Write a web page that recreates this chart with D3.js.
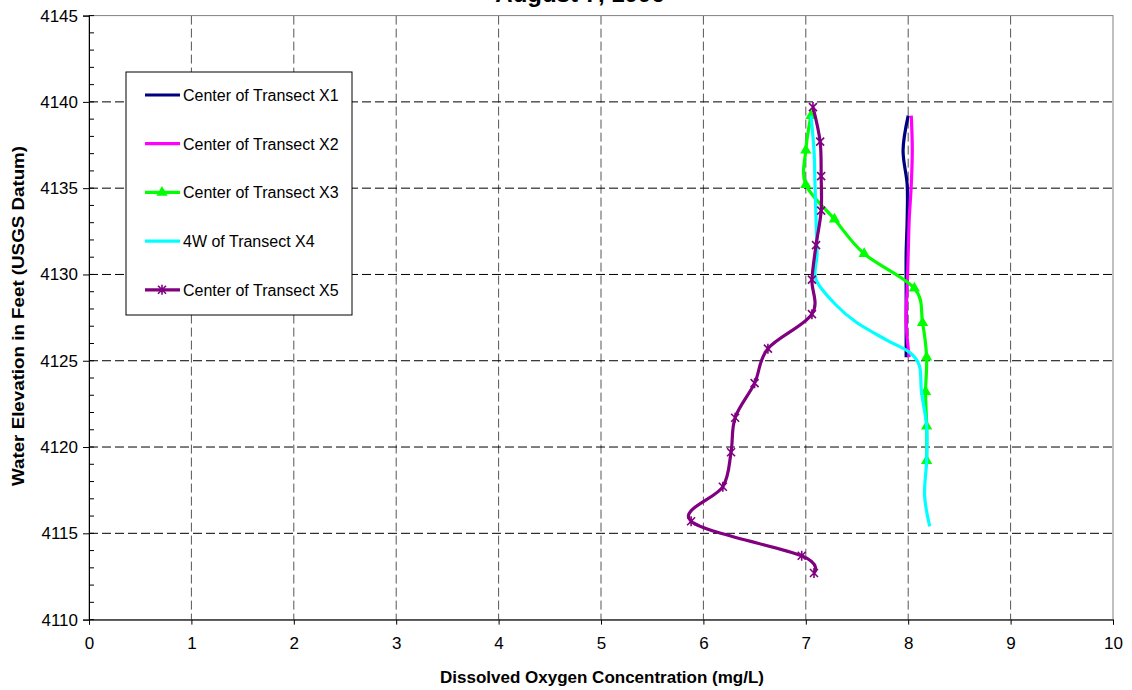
<!DOCTYPE html>
<html><head><meta charset="utf-8">
<script src="https://cdn.jsdelivr.net/npm/d3@7"></script>
<style>body{margin:0;background:#fff}svg{display:block}text{font-family:"Liberation Sans",Arial,sans-serif}</style>
</head><body>
<svg id="c" width="1132" height="690"></svg>
<script>
const xTicks=[0,1,2,3,4,5,6,7,8,9,10];
const yTicks=[4110,4115,4120,4125,4130,4135,4140,4145];
const seriesNames=["Center of Transect X1","Center of Transect X2","Center of Transect X3","4W of Transect X4","Center of Transect X5"];
const x1Elev=[4139.2,4137.2,4135.2,4133.2,4131.2,4129.2,4127.2,4125.2];
const x1DO=[8.00,7.95,7.99,7.99,7.98,7.98,7.98,7.98];
const x2Elev=[4139.2,4137.2,4135.2,4133.2,4131.2,4129.2,4127.2,4125.2];
const x2DO=[8.03,8.04,8.03,8.01,8.00,7.99,7.98,8.01];
const x3Elev=[4139.2,4137.2,4135.2,4133.2,4131.2,4129.2,4127.2,4125.2,4123.2,4121.2,4119.2];
const x3DO=[7.05,7.00,7.00,7.28,7.57,8.06,8.14,8.18,8.17,8.18,8.18];
const x4Elev=[4139.2,4137.2,4135.2,4133.2,4131.2,4129.7,4128.2,4127.2,4126.2,4125.5,4124.7,4123.2,4121.2,4119.2,4117.2,4115.4];
const x4DO=[7.05,7.08,7.09,7.10,7.11,7.10,7.30,7.50,7.79,8.01,8.11,8.13,8.18,8.18,8.16,8.21];
const x5Elev=[4139.7,4137.7,4135.7,4133.7,4131.7,4129.7,4127.7,4125.7,4123.7,4121.7,4119.7,4117.7,4115.7,4113.7,4112.7];
const x5DO=[7.07,7.14,7.15,7.15,7.10,7.06,7.06,6.63,6.50,6.31,6.27,6.19,5.88,6.96,7.08];

const colors=["#000080","#ff00ff","#00ff00","#00ffff","#800080"];
const markers=[null,null,"tri",null,"star"];
const series=[[x1DO,x1Elev],[x2DO,x2Elev],[x3DO,x3Elev],[x4DO,x4Elev],[x5DO,x5Elev]].map((s,i)=>({
  name:seriesNames[i],color:colors[i],marker:markers[i],pts:s[0].map((v,j)=>({v:v,e:s[1][j]}))}));

const svg=d3.select("#c");
const x=d3.scaleLinear().domain([0,10]).range([89,1113]);
const y=d3.scaleLinear().domain([4110,4145]).range([619.6,15.6]);

// title (mostly cut off at the top edge, as in the reference)
svg.append("text").attr("x",580).attr("y",2).attr("text-anchor","middle")
  .attr("font-size",24).attr("font-weight","bold").text("August 7, 1996");

// grid
const g=svg.append("g");
g.selectAll(".vg").data(xTicks.slice(1,-1)).join("line")
  .attr("x1",d=>x(d)).attr("x2",d=>x(d)).attr("y1",y(4145)).attr("y2",y(4110))
  .attr("stroke","#555").attr("stroke-width",1).attr("stroke-dasharray","9,4");
g.selectAll(".hg").data(yTicks.slice(1,-1)).join("line")
  .attr("x1",x(0)).attr("x2",x(10)).attr("y1",d=>y(d)).attr("y2",d=>y(d))
  .attr("stroke","#000").attr("stroke-width",1).attr("stroke-dasharray","9,4");
// border
svg.append("rect").attr("x",x(0)).attr("y",y(4145)).attr("width",x(10)-x(0)).attr("height",y(4110)-y(4145))
  .attr("fill","none").attr("stroke","#808080").attr("stroke-width",1);

// axes
const yAxis=d3.axisLeft(y).tickValues(yTicks).tickSize(6).tickFormat(d3.format("d"));
const ya=svg.append("g").attr("transform",`translate(${x(0)},0)`).call(yAxis);
ya.select(".domain").attr("stroke","#000");
ya.selectAll("text").attr("font-size",17).attr("font-family","Liberation Sans, Arial, sans-serif").attr("dx",-2);
const minor=d3.range(4110,4146,1);
svg.append("g").selectAll("line").data(minor).join("line")
  .attr("x1",x(0)).attr("x2",x(0)+5).attr("y1",d=>y(d)).attr("y2",d=>y(d)).attr("stroke","#000");
const xAxis=d3.axisBottom(x).tickValues(xTicks).tickSize(5).tickFormat(d3.format("d"));
const xa=svg.append("g").attr("transform",`translate(0,${y(4110)})`).call(xAxis);
xa.select(".domain").attr("stroke","#000");
xa.selectAll("text").attr("font-size",17).attr("font-family","Liberation Sans, Arial, sans-serif").attr("dy","1.25em");

svg.append("text").attr("x",602).attr("y",683).attr("text-anchor","middle").attr("font-size",17).attr("font-weight","bold")
  .text("Dissolved Oxygen Concentration (mg/L)");
svg.append("text").attr("transform","translate(24,316) rotate(-90)").attr("text-anchor","middle").attr("font-size",17).attr("font-weight","bold")
  .attr("textLength",340).attr("lengthAdjust","spacingAndGlyphs")
  .text("Water Elevation in Feet (USGS Datum)");

// lines
const line=d3.line().x(d=>x(d.v)).y(d=>y(d.e)).curve(d3.curveCatmullRom.alpha(0));
const tri=d3.symbol().type(d3.symbolTriangle).size(55);
function star(sel,c){
  const r=4;
  sel.append("path").attr("d",`M${-r},${-r}L${r},${r}M${-r},${r}L${r},${-r}M0,${-r-1}L0,${r+1}`)
    .attr("stroke",c).attr("stroke-width",1.6).attr("fill","none");
}
series.forEach(s=>{
  svg.append("path").datum(s.pts).attr("d",line).attr("fill","none").attr("stroke",s.color).attr("stroke-width",3.2)
    .attr("stroke-linejoin","round");
  if(s.marker){
    const m=svg.append("g").selectAll("g").data(s.pts).join("g").attr("transform",d=>`translate(${x(d.v)},${y(d.e)})`);
    if(s.marker==="tri") m.append("path").attr("d",tri).attr("fill",s.color);
    else m.each(function(){star(d3.select(this),s.color)});
  }
});

// legend
const lg=svg.append("g");
lg.append("rect").attr("x",126).attr("y",72).attr("width",226).attr("height",243).attr("fill","#fff").attr("stroke","#000").attr("stroke-width",1);
series.forEach((s,i)=>{
  const cy=95+i*48.7;
  lg.append("line").attr("x1",145).attr("x2",180).attr("y1",cy).attr("y2",cy).attr("stroke",s.color).attr("stroke-width",3.2);
  if(s.marker==="tri") lg.append("path").attr("d",tri).attr("transform",`translate(162,${cy})`).attr("fill",s.color);
  if(s.marker==="star"){const gg=lg.append("g").attr("transform",`translate(162,${cy})`);star(gg,s.color);}
  lg.append("text").attr("x",183).attr("y",cy+6).attr("font-size",16).text(s.name);
});
</script>
</body></html>
